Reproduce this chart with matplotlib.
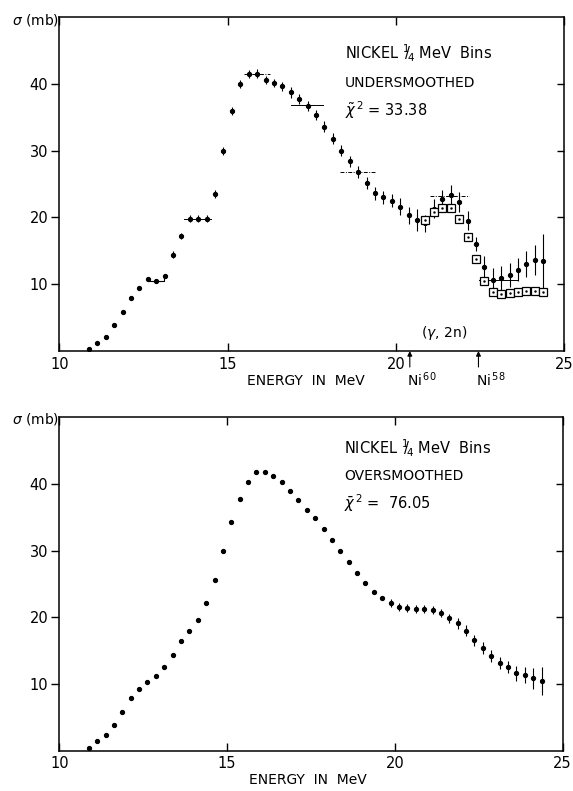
import matplotlib
matplotlib.use("Agg")
import matplotlib.pyplot as plt
import numpy as np

# ---------------- data ----------------
energy = [10.875, 11.125, 11.375, 11.625, 11.875, 12.125, 12.375, 12.625, 12.875, 13.125,
          13.375, 13.625, 13.875, 14.125, 14.375, 14.625, 14.875, 15.125, 15.375, 15.625,
          15.875, 16.125, 16.375, 16.625, 16.875, 17.125, 17.375, 17.625, 17.875, 18.125,
          18.375, 18.625, 18.875, 19.125, 19.375, 19.625, 19.875, 20.125, 20.375, 20.625,
          20.875, 21.125, 21.375, 21.625, 21.875, 22.125, 22.375, 22.625, 22.875, 23.125,
          23.375, 23.625, 23.875, 24.125, 24.375]

under_sigma = [0.3, 1.27, 2.17, 3.9, 5.85, 7.95, 9.45, 10.85, 10.45, 11.2,
               14.4, 17.2, 19.8, 19.8, 19.8, 23.5, 30.0, 36.0, 40.0, 41.5,
               41.5, 40.5, 40.1, 39.6, 38.7, 37.7, 36.7, 35.3, 33.6, 31.8,
               30.0, 28.4, 26.8, 25.1, 23.6, 23.0, 22.5, 21.6, 20.3, 19.6,
               19.1, 21.3, 22.8, 23.4, 22.3, 19.5, 16.0, 12.6, 10.65, 10.9,
               11.35, 12.2, 13.0, 13.6, 13.4]
under_err = [0, 0, 0, 0, 0, 0, 0, 0, 0, 0,
             0.5, 0.5, 0.5, 0.5, 0.5, 0.55, 0.6, 0.6, 0.6, 0.6,
             0.65, 0.6, 0.65, 0.65, 0.8, 0.7, 0.7, 0.75, 0.8, 0.8,
             0.8, 0.85, 0.9, 0.9, 0.95, 1.0, 1.0, 1.25, 1.25, 1.6,
             1.3, 1.4, 1.3, 1.4, 1.5, 1.4, 1.1, 1.55, 1.75, 1.75,
             1.8, 1.75, 1.9, 2.25, 4.1]

# (gamma,2n)-corrected values shown as open squares
square_energy = [20.875, 21.125, 21.375, 21.625, 21.875, 22.125, 22.375, 22.625,
                 22.875, 23.125, 23.375, 23.625, 23.875, 24.125, 24.375]
square_sigma = [19.6, 20.8, 21.4, 21.4, 19.7, 17.0, 13.7, 10.5,
                8.85, 8.6, 8.7, 8.8, 8.95, 9.0, 8.85]

# wide-bin averages drawn as horizontal segments
seg_start = [13.71, 15.48, 16.87, 18.33, 21.00, 22.48]
seg_end = [14.50, 16.26, 17.82, 19.38, 22.16, 23.59]
seg_level = [19.8, 41.5, 36.9, 26.8, 23.2, 10.6]
seg_dashed = [False, True, False, True, True, False]
bracket_x = [12.62, 12.62, 13.12, 13.12]
bracket_y = [10.95, 10.45, 10.45, 11.1]

over_sigma = [0.45, 1.4, 2.4, 3.9, 5.8, 7.85, 9.2, 10.25, 11.25, 12.6,
              14.4, 16.4, 17.95, 19.6, 22.2, 25.6, 30.0, 34.3, 37.75, 40.3,
              41.75, 41.8, 41.25, 40.25, 38.95, 37.6, 36.1, 34.85, 33.25, 31.6,
              29.95, 28.25, 26.7, 25.15, 23.85, 22.95, 22.1, 21.6, 21.35, 21.25,
              21.2, 21.1, 20.7, 19.85, 19.1, 18.0, 16.55, 15.35, 14.2, 13.1,
              12.5, 11.6, 11.35, 10.85, 10.5]
over_err = [0, 0, 0, 0, 0, 0, 0, 0, 0, 0,
            0, 0, 0, 0, 0, 0, 0, 0, 0, 0,
            0, 0, 0, 0, 0, 0, 0, 0, 0, 0,
            0, 0, 0, 0, 0, 0, 0.6, 0.6, 0.6, 0.6,
            0.6, 0.6, 0.6, 0.7, 0.8, 0.8, 0.8, 0.9, 0.9, 0.9,
            0.9, 1.1, 1.25, 1.6, 2.1]

threshold_energy = [20.41, 22.45]
threshold_label = [r"Ni$^{\,60}$", r"Ni$^{\,58}$"]

xticks = [10, 15, 20, 25]
yticks = [10, 20, 30, 40]

# ---------------- figure ----------------
W, H = 573, 791
fig = plt.figure(figsize=(W / 100, H / 100), dpi=100)
plt.rcParams['font.family'] = ['DejaVu Sans']
plt.rcParams['mathtext.fontset'] = 'dejavusans'

FS = 10
TFS = 10.5


def px_axes(l, r, t, b):
    return fig.add_axes([l / W, 1 - b / H, (r - l) / W, (b - t) / H])


def style_axes(ax):
    ax.set_xlim(10, 25)
    ax.set_ylim(0, 50)
    for s in ax.spines.values():
        s.set_linewidth(1.1)
    ax.set_xticks(xticks)
    ax.set_xticklabels([str(t) for t in xticks])
    ax.set_yticks(yticks)
    ax.set_yticklabels([str(t) for t in yticks])
    ax.tick_params(axis='x', direction='in', top=True, length=6, width=1.0,
                   labelsize=TFS, pad=4)
    ax.tick_params(axis='y', direction='out', length=6, width=1.0,
                   labelsize=TFS, pad=2)
    tw = ax.twinx()
    tw.set_ylim(0, 50)
    tw.set_yticks(yticks)
    tw.set_yticklabels([])
    tw.tick_params(axis='y', direction='in', length=5, width=1.0)
    for s in tw.spines.values():
        s.set_visible(False)
    return tw


nickel = r"NICKEL $^{1}\!\!/\!_{4}$ MeV  Bins"

# ---- top panel ----
ax1 = px_axes(59.4, 564.3, 17, 351)
style_axes(ax1)
ax1.errorbar(energy, under_sigma, yerr=under_err, fmt='o', color='black',
             markersize=2.8, elinewidth=0.8, capsize=0, zorder=3)
ax1.plot(square_energy, square_sigma, 's', markersize=5.2, markerfacecolor='white',
         markeredgecolor='black', markeredgewidth=0.9, zorder=4)
ax1.plot(square_energy, square_sigma, '.', markersize=1.5, color='black', zorder=5)
for x0, x1, lv, d in zip(seg_start, seg_end, seg_level, seg_dashed):
    ax1.plot([x0, x1], [lv, lv], color='black', lw=0.7,
             linestyle=(0, (4, 1.5, 1, 1.5)) if d else '-', zorder=2)
ax1.plot(bracket_x, bracket_y, color='black', lw=0.8, zorder=2)

ax1.text(0.5655, 0.892, nickel, transform=ax1.transAxes,
         ha='left', va='center', fontsize=FS + 0.5)
ax1.text(0.5655, 0.803, "UNDERSMOOTHED", transform=ax1.transAxes,
         ha='left', va='center', fontsize=FS)
ax1.text(0.5655, 0.722, r"$\tilde{\chi}^{\,2}$ = 33.38", transform=ax1.transAxes,
         ha='left', va='center', fontsize=FS + 0.5)
ax1.text(21.43, 2.7, r"($\gamma$, 2n)", ha='center', va='center', fontsize=FS)

for e, lab in zip(threshold_energy, threshold_label):
    ax1.annotate("", xy=(e, 0), xycoords='data',
                 xytext=(e, -2.4), textcoords='data',
                 arrowprops=dict(arrowstyle='-|>', color='black', lw=0.8,
                                 mutation_scale=7, shrinkA=0, shrinkB=0),
                 annotation_clip=False)
    ax1.text(e - 0.08, -4.3, lab, ha='left', va='center', fontsize=FS,
             clip_on=False)

fig.text(12 / W, 1 - 20 / H, r"$\sigma$ (mb)", ha='left', va='center', fontsize=FS)
fig.text(306 / W, 1 - 381 / H, "ENERGY  IN  MeV", ha='center', va='center', fontsize=FS)

# ---- bottom panel ----
ax2 = px_axes(59.4, 562.5, 417.3, 750.7)
style_axes(ax2)
ax2.errorbar(energy, over_sigma, yerr=over_err, fmt='o', color='black',
             markersize=2.8, elinewidth=0.8, capsize=0, zorder=3)
ax2.text(0.5655, 0.908, nickel, transform=ax2.transAxes,
         ha='left', va='center', fontsize=FS + 0.5)
ax2.text(0.5655, 0.824, "OVERSMOOTHED", transform=ax2.transAxes,
         ha='left', va='center', fontsize=FS)
ax2.text(0.5655, 0.743, r"$\bar{\chi}^{\,2}$ =  76.05", transform=ax2.transAxes,
         ha='left', va='center', fontsize=FS + 0.5)

fig.text(12 / W, 1 - 419 / H, r"$\sigma$ (mb)", ha='left', va='center', fontsize=FS)
fig.text(308 / W, 1 - 780 / H, "ENERGY  IN  MeV", ha='center', va='center', fontsize=FS)

fig.savefig("out.png", dpi=100)
